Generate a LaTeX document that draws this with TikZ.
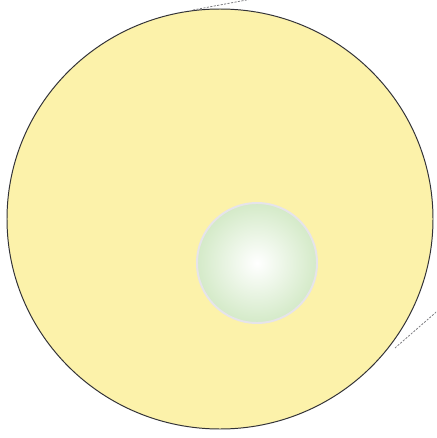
\documentclass[tikz,border=0pt]{standalone}
\usepackage{xcolor}
\usepackage{tikz}
\usetikzlibrary{shadings}

\definecolor{cellyellow}{RGB}{252,242,170}
\definecolor{celledge}{RGB}{50,50,55}
\definecolor{coregreen}{RGB}{212,234,200}
\definecolor{corerim}{RGB}{230,228,234}
\definecolor{guidegray}{RGB}{120,120,125}

\begin{document}
\begin{tikzpicture}[
  x=0.05cm, y=-0.05cm,
  cell/.style={fill=cellyellow, draw=celledge, line width=1.4pt},
  core/.style={draw=corerim, line width=2.8pt,
               inner color=white, outer color=coregreen},
  guide/.style={draw=guidegray, dashed, dash pattern=on 3pt off 2pt, line width=1.1pt}
]

%% ── frame ────────────────────────────────────────────────────────────
\useasboundingbox (0,0) rectangle (436,438);
\clip (0,0) rectangle (436,438);

%% ── key points ───────────────────────────────────────────────────────
\coordinate (cellc)  at (220,219);
\coordinate (corec)  at (257,263);
\coordinate (topa)   at (193,10);
\coordinate (topb)   at (300,-10);
\coordinate (sidea)  at (395,348);
\coordinate (sideb)  at (450,300);

%% ── outer cell ───────────────────────────────────────────────────────
\path[cell] (cellc) ellipse [x radius=213, y radius=210];

%% ── inner core ───────────────────────────────────────────────────────
\path[core] (corec) circle [radius=60];

%% ── dashed guide lines ───────────────────────────────────────────────
\draw[guide] (topa) -- (topb);
\draw[guide] (sidea) -- (sideb);

\end{tikzpicture}
\end{document}
